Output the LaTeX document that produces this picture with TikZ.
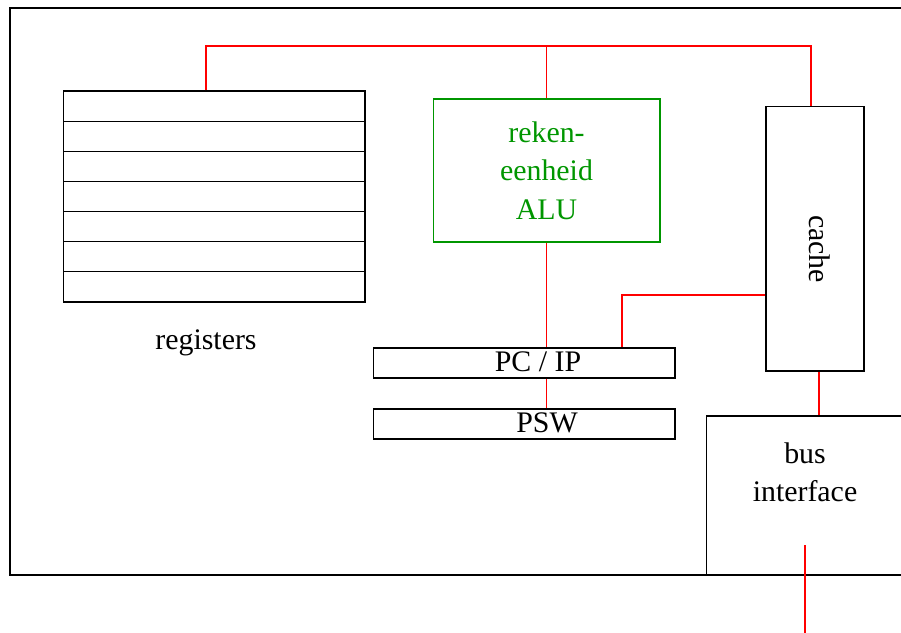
\documentclass[tikz,border=0pt]{standalone}
\usepackage{fontspec}
\setmainfont{Liberation Serif}
\usepackage{tikz}

\definecolor{alugreen}{RGB}{0,150,0}

\begin{document}
\begin{tikzpicture}[x=0.02cm, y=-0.02cm, font=\fontsize{17}{21.8}\selectfont,
	box/.style={draw, line width=0.6pt, inner sep=0pt},
	regrow/.style={box, minimum width=6.04cm, minimum height=0.603cm},
	flagrow/.style={box, minimum width=6.04cm, minimum height=0.6cm},
	wire/.style={red, line width=0.6pt}]
	\useasboundingbox (0,0) rectangle (901,632);
	\clip (0,0) rectangle (901,632);

	% processor outline
	\draw[line width=0.6pt] (10,8) rectangle (960,575);

	% register file
	\foreach \i in {0,...,6}
		\node[regrow] (reg\i) at (214,{106.07+30.14*\i}) {};
	\node (regtext) at (206,343) {registers};

	% ALU
	\node[box, draw=alugreen, text=alugreen, minimum width=4.54cm, minimum height=2.86cm,
		align=center] (alu) at (546.5,170.5) {reken-\\eenheid\\ALU};

	% PC and PSW
	\node[flagrow] (pc) at (524,363) {};
	\node (pctext) at (538,362) {PC / IP};
	\node[flagrow] (psw) at (524,424) {};
	\node (pswtext) at (547,423) {PSW};

	% cache
	\node[box, minimum width=1.96cm, minimum height=5.3cm] (cache) at (815,238.5) {};
	\node[rotate=-90] (cachetext) at (820,249) {cache};

	% bus interface
	\node[box, minimum width=5.08cm, minimum height=3.18cm] (bif) at (833,495.5) {};
	\node[align=center] (biftext) at (805,472) {bus\\interface};

	% internal bus
	\coordinate (busl) at (206,46);
	\coordinate (busr) at (811,46);
	\coordinate (tap) at (622,295);
	\coordinate (cbus) at (819,0);
	\coordinate (busout) at (805,545);
	\draw[wire] (reg0.north -| busl) -- (busl) -- (busr) -- (cache.north -| busr);
	\draw[wire] (alu.north) -- (alu.north |- busl);
	\draw[wire] (alu.south) -- (alu.south |- pc.north);
	\draw[wire] (pc.south -| alu.south) -- (psw.north -| alu.south);
	\draw[wire] (cache.west |- tap) -| (pc.north -| tap);
	\draw[wire] (cache.south -| cbus) -- (bif.north -| cbus);
	\draw[wire] (busout) -- (busout |- 0,640);

\end{tikzpicture}
\end{document}
